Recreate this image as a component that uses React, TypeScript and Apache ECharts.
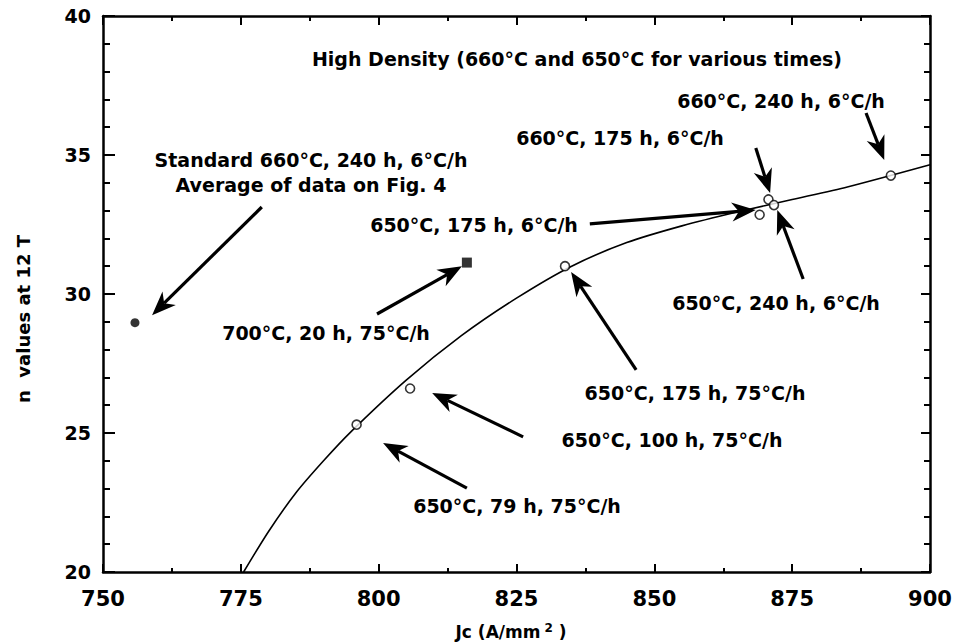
import React, { useEffect, useRef } from "react";
import * as echarts from "echarts";

// ---- data ----
const curveX = [775.5, 780, 785, 790, 795, 805, 815, 825, 835, 845, 855, 865, 875, 885, 900];
const curveY = [20.0, 21.45, 22.85, 24.0, 25.05, 26.9, 28.5, 29.85, 31.0, 31.85, 32.45, 32.95, 33.4, 33.85, 34.65];

const openX = [796.0, 805.7, 833.8, 869.1, 870.7, 871.7, 892.9];
const openY = [25.3, 26.6, 31.0, 32.85, 33.4, 33.2, 34.26];

const stdX = [755.8];
const stdY = [28.97];

const sqX = [816.0];
const sqY = [31.13];

// arrows: tail (x, y) -> head tip (x, y), in data units
const arrowFromX = [778.8, 799.7, 838.3, 868.4, 888.4, 877.0, 846.7, 826.2, 816.0];
const arrowFromY = [33.13, 29.28, 32.52, 35.25, 36.51, 30.54, 27.27, 24.86, 23.02];
const arrowToX = [758.9, 815.1, 868.4, 871.0, 891.7, 872.3, 834.9, 809.7, 800.8];
const arrowToY = [29.24, 31.0, 33.02, 33.63, 34.82, 33.02, 30.79, 26.44, 24.64];

const xTicks = { min: 750, max: 900, step: 25 };
const yTicks = { min: 20, max: 40, step: 5 };

const annTexts = [
  "High Density (660°C and 650°C for various times)",
  "Standard 660°C, 240 h, 6°C/h",
  "Average of data on Fig. 4",
  "650°C, 175 h, 6°C/h",
  "700°C, 20 h, 75°C/h",
  "660°C, 175 h, 6°C/h",
  "660°C, 240 h, 6°C/h",
  "650°C, 240 h, 6°C/h",
  "650°C, 175 h, 75°C/h",
  "650°C, 100 h, 75°C/h",
  "650°C, 79 h, 75°C/h",
];
const xAxisTitle = "Jc (A/mm";
const yAxisTitle = "n  values at 12 T";

// ---- layout (pixels) ----
const annPos: [number, number][] = [
  [577, 59],
  [311, 160],
  [311, 185],
  [474, 225],
  [326, 333],
  [620, 138],
  [781, 101],
  [776, 303],
  [695, 393],
  [672, 440],
  [517, 506],
];

const FONT = '"DejaVu Sans", "Liberation Sans", sans-serif';

export default function App() {
  const ref = useRef<HTMLDivElement>(null);
  useEffect(() => {
    if (!ref.current) return;
    const chart = echarts.init(ref.current, undefined, { renderer: "svg" });

    const curve = curveX.map((x, i) => [x, curveY[i]]);
    const open = openX.map((x, i) => [x, openY[i]]);
    const std = stdX.map((x, i) => [x, stdY[i]]);
    const sq = sqX.map((x, i) => [x, sqY[i]]);
    const arrows = arrowFromX.map((x, i) => [x, arrowFromY[i], arrowToX[i], arrowToY[i]]);

    const axisLine = { show: true, lineStyle: { color: "#000", width: 2.5 } };

    const graphics: any[] = annTexts.map((t, i) => ({
      type: "text",
      x: annPos[i][0],
      y: annPos[i][1],
      silent: true,
      style: {
        text: t,
        align: "center",
        verticalAlign: "middle",
        fontFamily: FONT,
        fontWeight: "bold",
        fontSize: 19,
        fill: "#000",
      },
    }));
    graphics.push({
      type: "text",
      x: 511,
      y: 632,
      silent: true,
      style: {
        text: "{m|" + xAxisTitle + "}{s|2}{m| )}",
        align: "center",
        verticalAlign: "middle",
        fill: "#000",
        rich: {
          m: { fontFamily: FONT, fontWeight: "bold", fontSize: 17, fill: "#000" },
          s: {
            fontFamily: FONT,
            fontWeight: "bold",
            fontSize: 12,
            fill: "#000",
            verticalAlign: "top",
            padding: [0, 0, 8, 4],
          },
        },
      },
    });
    graphics.push({
      type: "text",
      x: 23,
      y: 319,
      rotation: Math.PI / 2,
      silent: true,
      style: {
        text: yAxisTitle,
        align: "center",
        verticalAlign: "middle",
        fontFamily: FONT,
        fontWeight: "bold",
        fontSize: 18,
        fill: "#000",
      },
    });

    chart.setOption({
      animation: false,
      backgroundColor: "#fff",
      grid: { left: 103, right: 26, top: 16, bottom: 71, containLabel: false },
      xAxis: [
        {
          type: "value",
          position: "bottom",
          min: xTicks.min,
          max: xTicks.max,
          interval: xTicks.step,
          axisLine,
          axisTick: { show: true, inside: true, length: 8, lineStyle: { color: "#000", width: 2 } },
          minorTick: { show: true, splitNumber: 2, length: 4, lineStyle: { color: "#000", width: 2 } },
          splitLine: { show: false },
          axisLabel: {
            color: "#000",
            fontFamily: FONT,
            fontWeight: "bold",
            fontSize: 21,
            margin: 16,
          },
        },
        {
          type: "value",
          position: "top",
          min: xTicks.min,
          max: xTicks.max,
          interval: xTicks.step,
          axisLine,
          axisTick: { show: true, inside: true, length: 9, lineStyle: { color: "#000", width: 2 } },
          minorTick: { show: true, splitNumber: 2, length: 5, lineStyle: { color: "#000", width: 2 } },
          splitLine: { show: false },
          axisLabel: { show: false },
        },
      ],
      yAxis: [
        {
          type: "value",
          position: "left",
          min: yTicks.min,
          max: yTicks.max,
          interval: yTicks.step,
          axisLine,
          axisTick: { show: true, inside: true, length: 12, lineStyle: { color: "#000", width: 2 } },
          minorTick: { show: true, splitNumber: 5, length: 7, lineStyle: { color: "#000", width: 2 } },
          splitLine: { show: false },
          axisLabel: {
            color: "#000",
            fontFamily: FONT,
            fontWeight: "bold",
            fontSize: 19,
            margin: 12,
          },
        },
        {
          type: "value",
          position: "right",
          min: yTicks.min,
          max: yTicks.max,
          interval: yTicks.step,
          axisLine,
          axisTick: { show: true, inside: true, length: 9, lineStyle: { color: "#000", width: 2 } },
          minorTick: { show: true, splitNumber: 5, length: 6, lineStyle: { color: "#000", width: 2 } },
          splitLine: { show: false },
          axisLabel: { show: false },
        },
      ],
      series: [
        {
          type: "line",
          data: curve,
          smooth: 0.25,
          showSymbol: false,
          lineStyle: { color: "#000", width: 1.6 },
          z: 2,
        },
        {
          type: "custom",
          data: arrows,
          encode: { x: [0, 2], y: [1, 3] },
          clip: false,
          z: 3,
          renderItem: (params: any, api: any) => {
            const p1 = api.coord([api.value(0), api.value(1)]);
            const p2 = api.coord([api.value(2), api.value(3)]);
            const dx = p2[0] - p1[0];
            const dy = p2[1] - p1[1];
            const len = Math.hypot(dx, dy) || 1;
            const ux = dx / len;
            const uy = dy / len;
            const nx = -uy;
            const ny = ux;
            const L = 24;
            const W = 9.5;
            const N = 7;
            const bx = p2[0] - ux * L;
            const by = p2[1] - uy * L;
            const mx = p2[0] - ux * (L - N);
            const my = p2[1] - uy * (L - N);
            return {
              type: "group",
              children: [
                {
                  type: "line",
                  shape: { x1: p1[0], y1: p1[1], x2: mx, y2: my },
                  style: { stroke: "#000", lineWidth: 3.2 },
                },
                {
                  type: "polygon",
                  shape: {
                    points: [
                      [p2[0], p2[1]],
                      [bx + nx * W, by + ny * W],
                      [mx, my],
                      [bx - nx * W, by - ny * W],
                    ],
                  },
                  style: { fill: "#000" },
                },
              ],
            };
          },
        },
        {
          type: "scatter",
          data: open,
          symbol: "circle",
          symbolSize: 9,
          itemStyle: { color: "#fff", borderColor: "#000", borderWidth: 1.6 },
          z: 4,
        },
        {
          type: "scatter",
          data: std,
          symbol: "circle",
          symbolSize: 9,
          itemStyle: { color: "#000" },
          z: 4,
        },
        {
          type: "scatter",
          data: sq,
          symbol: "rect",
          symbolSize: 10,
          itemStyle: { color: "#000" },
          z: 4,
        },
      ],
      graphic: graphics,
    });

    return () => chart.dispose();
  }, []);

  return (
    <div
      ref={ref}
      style={{ position: "fixed", left: 0, top: 0, width: 956, height: 643, background: "#fff" }}
    />
  );
}
